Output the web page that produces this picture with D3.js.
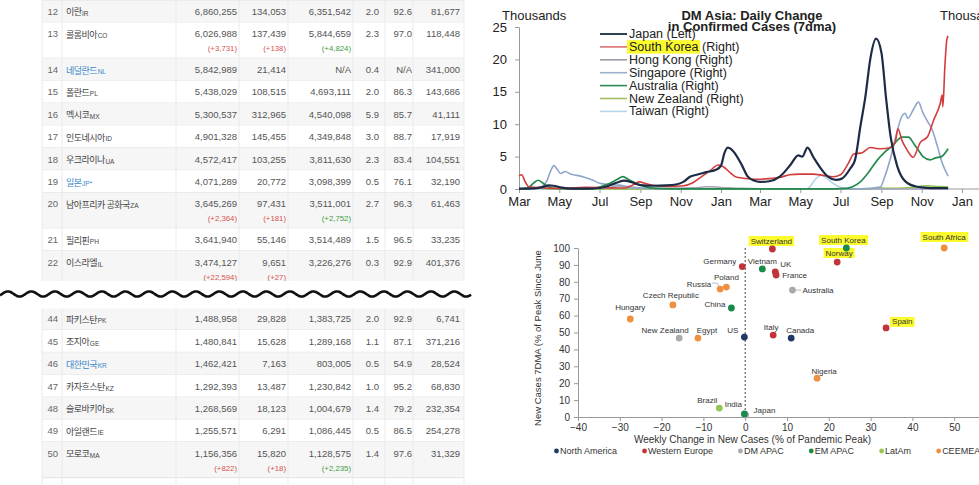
<!DOCTYPE html>
<html><head><meta charset="utf-8">
<script src="https://cdn.jsdelivr.net/npm/d3@7"></script>
<style>
html,body{margin:0;padding:0;background:#fff;}
svg{display:block;}
</style></head>
<body>
<svg id="c" width="979" height="485"></svg>
<script>
// ================= TABLE DATA =================
const tblRanks = [12,13,14,15,16,17,18,19,20,21,22,44,45,46,47,48,49,50];
const tblNames = ["이란","콜롬비아","네덜란드","폴란드","멕시코","인도네시아","우크라이나","일본","남아프리카 공화국","필리핀","이스라엘","파키스탄","조지아","대한민국","카자흐스탄","슬로바키아","아일랜드","모로코"];
const tblCodes = ["IR","CO","NL","PL","MX","ID","UA","JP*","ZA","PH","IL","PK","GE","KR","KZ","SK","IE","MA"];
const tblLinked = [14,19,46];
const tblConfirmed = [6860255,6026988,5842989,5438029,5300537,4901328,4572417,4071289,3645269,3641940,3474127,1488958,1480841,1462421,1292393,1268569,1255571,1156356];
const tblDeaths = [134053,137439,21414,108515,312965,145455,103255,20772,97431,55146,9651,29828,15628,7163,13487,18123,6291,15820];
const tblRecovered = [6351542,5844659,null,4693111,4540098,4349848,3811630,3098399,3511001,3514489,3226276,1383725,1289168,803005,1230842,1004679,1086445,1128575];
const tblFatality = [2.0,2.3,0.4,2.0,5.9,3.0,2.3,0.5,2.7,1.5,0.3,2.0,1.1,0.5,1.0,1.4,0.5,1.4];
const tblRecoveryPct = [92.6,97.0,null,86.3,85.7,88.7,83.4,76.1,96.3,96.5,92.9,92.9,87.1,54.9,95.2,79.2,86.5,97.6];
const tblPerMillion = [81677,118448,341000,143686,41111,17919,104551,32190,61463,33235,401376,6741,371216,28524,68830,232354,254278,31329];
const tblNewConfirmed = [null,3731,null,null,null,null,null,null,2364,null,22594,null,null,null,null,null,null,822];
const tblNewDeaths =    [null,138,null,null,null,null,null,null,181,null,27,null,null,null,null,null,null,18];
const tblNewRecovered = [null,4824,null,null,null,null,null,null,2752,null,null,null,null,null,null,null,null,2235];
const tblTailName = "오스트레일리아";

// ================= LINE CHART DATA (thousands) =================
const japanCases = [["2020-03-01",0.05],["2020-03-25",0.1],["2020-04-05",0.3],["2020-04-15",0.55],["2020-04-22",0.5],["2020-05-05",0.2],["2020-05-20",0.05],["2020-06-15",0.05],["2020-07-01",0.15],["2020-07-15",0.5],["2020-07-28",1.0],["2020-08-07",1.3],["2020-08-20",1.0],["2020-09-01",0.6],["2020-09-20",0.5],["2020-10-10",0.55],["2020-10-25",0.7],["2020-11-05",1.1],["2020-11-15",1.9],["2020-11-25",2.2],["2020-12-10",2.6],["2020-12-25",3.0],["2021-01-01",3.6],["2021-01-06",5.5],["2021-01-11",6.4],["2021-01-16",6.2],["2021-01-22",5.5],["2021-02-01",3.8],["2021-02-10",2.0],["2021-02-20",1.3],["2021-03-01",1.1],["2021-03-15",1.2],["2021-03-31",1.9],["2021-04-16",3.7],["2021-04-28",5.2],["2021-05-04",5.0],["2021-05-12",6.4],["2021-05-21",4.9],["2021-06-01",3.2],["2021-06-12",1.9],["2021-06-24",1.4],["2021-07-03",1.6],["2021-07-16",3.2],["2021-07-23",4.5],["2021-07-31",9.6],["2021-08-08",14.5],["2021-08-15",20.0],["2021-08-24",23.2],["2021-09-01",21.0],["2021-09-08",14.0],["2021-09-15",8.0],["2021-09-25",3.5],["2021-10-08",1.1],["2021-10-25",0.35],["2021-11-15",0.15],["2021-12-11",0.12]];
const koreaCases = [["2020-03-01",2.0],["2020-03-05",2.2],["2020-03-10",1.2],["2020-03-16",0.35],["2020-04-05",0.2],["2020-04-20",0.1],["2020-05-15",0.15],["2020-06-10",0.25],["2020-07-10",0.2],["2020-08-08",0.15],["2020-08-20",0.6],["2020-08-30",1.1],["2020-09-10",0.8],["2020-09-25",0.5],["2020-10-15",0.4],["2020-11-05",0.5],["2020-11-20",1.0],["2020-12-01",1.8],["2020-12-15",2.8],["2020-12-28",3.7],["2021-01-05",3.4],["2021-01-15",2.5],["2021-01-25",1.8],["2021-02-10",1.6],["2021-02-25",1.5],["2021-03-15",1.6],["2021-04-01",1.8],["2021-04-15",2.2],["2021-05-01",2.3],["2021-05-20",2.3],["2021-06-05",2.1],["2021-06-20",1.9],["2021-07-01",2.2],["2021-07-13",4.0],["2021-07-21",5.4],["2021-08-03",5.6],["2021-08-15",6.4],["2021-08-30",6.2],["2021-09-15",6.4],["2021-09-22",7.3],["2021-09-26",9.3],["2021-10-02",7.5],["2021-10-10",6.0],["2021-10-19",4.9],["2021-10-30",7.2],["2021-11-10",8.1],["2021-11-19",10.6],["2021-11-29",13.2],["2021-12-02",14.5],["2021-12-03",12.7],["2021-12-06",18.8],["2021-12-09",23.0],["2021-12-11",23.6]];
const hongKongCases = [["2020-03-01",0.02],["2020-03-25",0.15],["2020-04-05",0.2],["2020-04-20",0.03],["2020-07-10",0.1],["2020-07-28",0.45],["2020-08-10",0.3],["2020-08-25",0.1],["2020-11-25",0.2],["2020-12-10",0.35],["2021-01-01",0.25],["2021-02-01",0.1],["2021-03-01",0.05],["2021-12-11",0.01]];
const singaporeCases = [["2020-03-01",0.02],["2020-03-25",0.1],["2020-04-05",0.4],["2020-04-12",1.2],["2020-04-18",2.8],["2020-04-23",3.6],["2020-04-28",3.0],["2020-05-03",2.4],["2020-05-10",2.7],["2020-05-18",2.3],["2020-05-28",2.1],["2020-06-08",1.8],["2020-06-20",1.4],["2020-07-01",0.9],["2020-07-15",0.7],["2020-07-30",0.6],["2020-08-15",0.35],["2020-09-05",0.1],["2020-10-01",0.03],["2021-08-01",0.05],["2021-08-30",0.3],["2021-09-06",1.9],["2021-09-14",4.5],["2021-09-24",8.6],["2021-10-01",11.0],["2021-10-07",11.7],["2021-10-11",10.9],["2021-10-19",12.2],["2021-10-27",13.4],["2021-11-03",11.7],["2021-11-10",10.4],["2021-11-17",9.1],["2021-11-25",6.5],["2021-12-02",4.0],["2021-12-11",2.0]];
const australiaCases = [["2020-03-01",0.0],["2020-03-15",0.2],["2020-03-24",1.0],["2020-03-30",1.35],["2020-04-05",1.0],["2020-04-15",0.3],["2020-05-01",0.05],["2020-06-15",0.05],["2020-07-01",0.3],["2020-07-15",0.8],["2020-07-28",1.5],["2020-08-05",1.9],["2020-08-15",1.4],["2020-08-28",0.8],["2020-09-10",0.3],["2020-09-25",0.1],["2020-10-15",0.03],["2021-06-20",0.03],["2021-07-10",0.1],["2021-07-20",0.4],["2021-07-31",1.1],["2021-08-12",2.5],["2021-08-26",4.5],["2021-09-06",5.7],["2021-09-18",6.7],["2021-10-02",8.0],["2021-10-12",8.0],["2021-10-20",7.0],["2021-10-27",6.0],["2021-11-03",5.0],["2021-11-14",4.5],["2021-11-22",4.8],["2021-12-01",5.0],["2021-12-11",6.2]];
const newZealandCases = [["2020-03-01",0.0],["2020-03-28",0.15],["2020-04-10",0.05],["2020-05-01",0.0],["2021-08-15",0.0],["2021-08-25",0.2],["2021-09-10",0.1],["2021-10-15",0.25],["2021-11-10",0.5],["2021-11-25",0.4],["2021-12-11",0.3]];
const taiwanCases = [["2020-03-01",0.0],["2021-05-10",0.0],["2021-05-16",0.4],["2021-05-23",1.4],["2021-06-01",2.1],["2021-06-08",1.8],["2021-06-18",1.0],["2021-06-28",0.4],["2021-07-10",0.1],["2021-08-01",0.0],["2021-12-11",0.0]];
const lineSeriesNames = ["Japan","South Korea","Hong Kong","Singapore","Australia","New Zealand","Taiwan"];
const lineSeriesAxis = ["Left","Right","Right","Right","Right","Right","Right"];
const lineYTicks = [0,5,10,15,20,25];

// ================= SCATTER DATA =================
const scNames = ["Switzerland","South Korea","Norway","South Africa","Germany","Vietnam","UK","France","Poland","Russia","Australia","Czech Republic","China","Hungary","Spain","New Zealand","Egypt","US","Italy","Canada","Nigeria","Brazil","Japan","India"];
const scWeeklyChange = [6.5,24.2,22,47.6,-0.7,4.1,7.2,7.4,-4.5,-6.0,11.3,-17.3,-3.3,-27.5,33.7,-15.8,-11.3,-0.2,6.7,11.0,17.2,-6.2,0.1,-0.2];
const scPctOfPeak = [99.4,100,91.7,100,89,87.6,85.8,84,76.9,75.7,75.1,66.3,64.5,58,52.7,46.7,46.7,47.3,48.5,46.7,23,5.3,1.2,1.8];
const scRegion = ["Western Europe","EM APAC","Western Europe","CEEMEA","Western Europe","EM APAC","Western Europe","Western Europe","CEEMEA","CEEMEA","DM APAC","CEEMEA","EM APAC","CEEMEA","Western Europe","DM APAC","CEEMEA","North America","Western Europe","North America","CEEMEA","LatAm","DM APAC","EM APAC"];
const scHighlighted = ["Switzerland","South Korea","Norway","South Africa","Spain"];
const scRegions = ["North America","Western Europe","DM APAC","EM APAC","LatAm","CEEMEA"];
const scXTicks = [-40,-30,-20,-10,0,10,20,30,40,50,60];
const scYTicks = [0,10,20,30,40,50,60,70,80,90,100];

// ================= STYLES / LAYOUT =================
const svg = d3.select("#c");
const NUMF = "'Liberation Sans', Arial, sans-serif";
const KRF = "'Noto Sans CJK KR', 'Noto Sans', sans-serif";
const fmt = d3.format(",");
const fmt1 = d3.format(".1f");

// ---------- TABLE ----------
const colRight = [237, 286, 351, 379, 412, 460];
const colLines = [42, 62, 176, 239, 288, 353, 385, 413, 464];
const singleH = 22.4, doubleH = 35.8;

function drawSegment(idxs, top, clipTop, clipBottom, id, tail) {
  svg.append("clipPath").attr("id", id).append("rect")
    .attr("x", 0).attr("y", clipTop).attr("width", 470).attr("height", clipBottom - clipTop);
  const g = svg.append("g").attr("clip-path", `url(#${id})`);
  let y = top;
  const rows = idxs.map(i => {
    const dbl = tblNewConfirmed[i] != null || tblNewDeaths[i] != null || tblNewRecovered[i] != null;
    const r = {i, y, h: dbl ? doubleH : singleH};
    y += r.h; return r;
  });
  const bottom = y + (tail ? singleH : 0);
  const rg = g.selectAll("g.row").data(rows).join("g").attr("class", "row");
  rg.append("rect").attr("x", 42).attr("width", 422).attr("y", d => d.y).attr("height", d => d.h)
    .attr("fill", d => tblRanks[d.i] % 2 === 0 ? "#f6f6f6" : "#ffffff");
  rg.append("line").attr("x1", 42).attr("x2", 464).attr("y1", d => d.y + d.h).attr("y2", d => d.y + d.h)
    .attr("stroke", "#e2e2e2");
  rg.append("text").attr("x", 58).attr("y", d => d.y + 11.3).attr("text-anchor", "end")
    .attr("dominant-baseline", "central").attr("font-family", NUMF).attr("font-size", 9.5).attr("fill", "#666")
    .text(d => tblRanks[d.i]);
  const nm = rg.append("text").attr("x", 66).attr("y", d => d.y + 11.3).attr("dominant-baseline", "central")
    .attr("fill", d => tblLinked.includes(tblRanks[d.i]) ? "#3c86c8" : "#444");
  nm.append("tspan").attr("font-family", KRF).attr("font-size", 9).attr("letter-spacing", -0.5).text(d => tblNames[d.i]);
  nm.append("tspan").attr("font-family", NUMF).attr("font-size", 6.5).attr("dy", 1.5).attr("dx", 0.5).text(d => tblCodes[d.i]);
  const mainVals = d => [fmt(tblConfirmed[d.i]), fmt(tblDeaths[d.i]),
    tblRecovered[d.i] == null ? "N/A" : fmt(tblRecovered[d.i]), fmt1(tblFatality[d.i]),
    tblRecoveryPct[d.i] == null ? "N/A" : fmt1(tblRecoveryPct[d.i]), fmt(tblPerMillion[d.i])];
  rg.each(function(d) {
    const s = d3.select(this);
    mainVals(d).forEach((v, k) => {
      s.append("text").attr("x", colRight[k]).attr("y", d.y + 11.3).attr("text-anchor", "end")
        .attr("dominant-baseline", "central").attr("font-family", NUMF).attr("font-size", 9.5).attr("fill", "#555").text(v);
    });
    const deltas = [[tblNewConfirmed[d.i], "#d9534f"], [tblNewDeaths[d.i], "#d9534f"], [tblNewRecovered[d.i], "#3f9d3f"]];
    deltas.forEach(([v, c], k) => {
      if (v == null) return;
      s.append("text").attr("x", colRight[k]).attr("y", d.y + 26.2).attr("text-anchor", "end")
        .attr("dominant-baseline", "central").attr("font-family", NUMF).attr("font-size", 7.8).attr("fill", c)
        .text("(+" + fmt(v) + ")");
    });
  });
  if (tail) {
    g.append("text").attr("x", 66).attr("y", y + 11.3).attr("dominant-baseline", "central")
      .attr("font-family", KRF).attr("font-size", 9).attr("letter-spacing", -0.5).attr("fill", "#444").text(tailName);
  }
  g.append("line").attr("x1", 42).attr("x2", 464).attr("y1", top).attr("y2", top).attr("stroke", "#e2e2e2");
  g.selectAll("line.col").data(colLines).join("line").attr("class", "col")
    .attr("x1", d => d).attr("x2", d => d).attr("y1", top).attr("y2", bottom)
    .attr("stroke", "#eaeaea");
}
const tailName = tblTailName;
drawSegment(d3.range(0, 11), 0, 0, 281, "clipTop", false);
drawSegment(d3.range(11, 18), 307.5, 308.5, 485, "clipBot", true);

// wavy divider
const wavePts = d3.range(0, 472, 1).map(x => [x, 294 - 2.6 * Math.sin(2 * Math.PI * (x - 2) / 23.5)]);
svg.append("path").attr("d", d3.line().curve(d3.curveBasis)(wavePts))
  .attr("fill", "none").attr("stroke", "#111").attr("stroke-width", 2.6);

// ---------- LINE CHART ----------
const parse = d3.timeParse("%Y-%m-%d");
const lcX = d3.scaleTime().domain([new Date(2020, 2, 1), new Date(2022, 0, 1)]).range([519, 962]);
const lcY = d3.scaleLinear().domain([0, 25]).range([189, 27]);
const lcYR = d3.scaleLinear().domain([0, 25]).range([189, 27]);
const lineData = [japanCases, koreaCases, hongKongCases, singaporeCases, australiaCases, newZealandCases, taiwanCases];
const lineColors = ["#1d2b45", "#d43c3c", "#a8a2b4", "#8ea6c9", "#258a4e", "#8cc34a", "#b1d3e8"];
const legendColors = ["#2f4050", "#d97070", "#a09aa8", "#9ab0cc", "#2e8b57", "#a2bf60", "#b6d5e8"];
const lineWidths = [2.2, 1.6, 1.5, 1.6, 1.7, 1.5, 1.5];

const lc = svg.append("g");
lc.append("text").attr("x", 502).attr("y", 15).attr("dominant-baseline", "central")
  .attr("font-family", NUMF).attr("font-size", 13).attr("fill", "#222").text("Thousands");
lc.append("text").attr("x", 940).attr("y", 15).attr("dominant-baseline", "central")
  .attr("font-family", NUMF).attr("font-size", 13).attr("fill", "#222").text("Thousands");
lc.append("text").attr("x", 752).attr("y", 15).attr("text-anchor", "middle").attr("dominant-baseline", "central")
  .attr("font-family", NUMF).attr("font-size", 13).attr("font-weight", "bold").attr("fill", "#222").text("DM Asia: Daily Change");
lc.append("text").attr("x", 752).attr("y", 26.5).attr("text-anchor", "middle").attr("dominant-baseline", "central")
  .attr("font-family", NUMF).attr("font-size", 13).attr("font-weight", "bold").attr("fill", "#222").text("in Confirmed Cases (7dma)");

const yAx = lc.append("g").attr("transform", "translate(519,0)")
  .call(d3.axisLeft(lcY).tickValues(lineYTicks).tickSize(4).tickSizeOuter(0).tickPadding(8));
yAx.selectAll("path,line").attr("stroke", "#999");
yAx.selectAll("text").attr("font-family", NUMF).attr("font-size", 13).attr("fill", "#222");
const xAx = lc.append("g").attr("transform", "translate(0,189)")
  .call(d3.axisBottom(lcX).ticks(d3.timeMonth.every(2)).tickFormat(d3.timeFormat("%b")).tickSize(4).tickPadding(4));
xAx.select("path").remove();
xAx.selectAll("line").attr("stroke", "#999");
xAx.selectAll("text").attr("font-family", NUMF).attr("font-size", 13).attr("fill", "#222");
lc.append("line").attr("x1", 519).attr("x2", 979).attr("y1", 189).attr("y2", 189).attr("stroke", "#999");

const lineGen = yScale => d3.line().x(d => lcX(parse(d[0]))).y(d => yScale(d[1])).curve(d3.curveMonotoneX);
const order = [6, 5, 2, 3, 4, 1, 0];
order.forEach(k => {
  lc.append("path").datum(lineData[k])
    .attr("d", lineGen(lineSeriesAxis[k] === "Left" ? lcY : lcYR))
    .attr("fill", "none").attr("stroke", lineColors[k]).attr("stroke-width", lineWidths[k])
    .attr("stroke-linejoin", "round");
});

// legend
const lg = lc.append("g");
lineSeriesNames.forEach((n, k) => {
  const y = 34 + k * 12.9;
  lg.append("line").attr("x1", 600).attr("x2", 627).attr("y1", y).attr("y2", y)
    .attr("stroke", legendColors[k]).attr("stroke-width", k === 0 ? 2 : 1.6);
  const t = lg.append("text").attr("x", 629).attr("y", y).attr("dominant-baseline", "central")
    .attr("font-family", NUMF).attr("font-size", 12.5).attr("fill", "#222");
  const nameSpan = t.append("tspan").text(n);
  t.append("tspan").text(" (" + lineSeriesAxis[k] + ")");
  if (n === "South Korea") {
    const w = nameSpan.node().getComputedTextLength();
    lg.insert("rect", "text").attr("x", 627).attr("y", y - 6.8).attr("width", w + 3.5).attr("height", 13.5)
      .attr("fill", "#fbfb2e");
  }
});

// ---------- SCATTER ----------
const scX = d3.scaleLinear().domain([-40, 60]).range([578, 996]);
const scY = d3.scaleLinear().domain([0, 100]).range([417, 248]);
const regionColor = d3.scaleOrdinal().domain(scRegions)
  .range(["#1f3864", "#c0343a", "#a9a9a9", "#1a8a4a", "#93c553", "#ef9040"]);
const sc = svg.append("g");

const sxAx = sc.append("g").attr("transform", "translate(0,417)")
  .call(d3.axisBottom(scX).tickValues(scXTicks).tickSize(4).tickSizeOuter(0).tickPadding(3));
sxAx.selectAll("path,line").attr("stroke", "#999");
sxAx.selectAll("text").attr("font-family", NUMF).attr("font-size", 10).attr("fill", "#333");
const syAx = sc.append("g").attr("transform", "translate(578,0)")
  .call(d3.axisLeft(scY).tickValues(scYTicks).tickSize(4).tickSizeOuter(0).tickPadding(4));
syAx.selectAll("path,line").attr("stroke", "#999");
syAx.selectAll("text").attr("font-family", NUMF).attr("font-size", 10).attr("fill", "#333");

sc.append("line").attr("x1", scX(0)).attr("x2", scX(0)).attr("y1", scY(100)).attr("y2", scY(0))
  .attr("stroke", "#444").attr("stroke-width", 1).attr("stroke-dasharray", "2,2");

sc.append("text").attr("x", 752.5).attr("y", 439).attr("text-anchor", "middle").attr("dominant-baseline", "central")
  .attr("font-family", NUMF).attr("font-size", 10).attr("fill", "#333")
  .text("Weekly Change in New Cases (% of Pandemic Peak)");
sc.append("text").attr("transform", "translate(537,338) rotate(-90)").attr("text-anchor", "middle")
  .attr("dominant-baseline", "central").attr("font-family", NUMF).attr("font-size", 9.5).attr("fill", "#333")
  .text("New Cases 7DMA (% of Peak Since June");

const labelLayout = {
  "Switzerland": [-1, -8, "middle"], "South Korea": [-3, -8, "middle"], "Norway": [2, -9, "middle"],
  "South Africa": [0, -11, "middle"], "Germany": [-6, -5, "end"], "Vietnam": [0, -7, "middle"],
  "UK": [5, -7, "start"], "France": [6, 0, "start"], "Poland": [0, -10, "middle"], "Russia": [-9, -5, "end"],
  "Australia": [10, 0, "start"], "Czech Republic": [-2, -9, "middle"], "China": [-6, -3, "end"],
  "Hungary": [0, -11, "middle"], "Spain": [6, -6, "start"], "New Zealand": [-14, -8, "middle"],
  "Egypt": [9, -8, "middle"], "US": [-6, -7, "end"], "Italy": [-2, -8, "middle"], "Canada": [9, -8, "middle"],
  "Nigeria": [7, -7, "middle"], "Brazil": [-12, -8, "middle"], "India": [-11, -9, "middle"], "Japan": [8, -4, "start"]
};
const pts = scNames.map((n, i) => ({n, x: scX(scWeeklyChange[i]), y: scY(scPctOfPeak[i]), r: scRegion[i]}));

// leader lines
const rus = pts.find(p => p.n === "Russia");
sc.append("path").attr("d", `M${rus.x - 8},${rus.y - 6}L${rus.x - 3},${rus.y - 6}L${rus.x - 1},${rus.y - 3}`)
  .attr("fill", "none").attr("stroke", "#aaa").attr("stroke-width", 0.8);
const aus = pts.find(p => p.n === "Australia");
sc.append("line").attr("x1", aus.x + 3).attr("x2", aus.x + 9).attr("y1", aus.y).attr("y2", aus.y)
  .attr("stroke", "#aaa").attr("stroke-width", 0.8);

const labG = sc.append("g");
pts.forEach(p => {
  const [dx, dy, anc] = labelLayout[p.n];
  const t = labG.append("text").attr("x", p.x + dx).attr("y", p.y + dy).attr("text-anchor", anc)
    .attr("dominant-baseline", "central").attr("font-family", NUMF).attr("font-size", 8).attr("fill", "#333").text(p.n);
  if (scHighlighted.includes(p.n)) {
    const b = t.node().getBBox();
    labG.insert("rect", "text").attr("x", b.x - 2).attr("y", b.y - 0.5).attr("width", b.width + 4).attr("height", b.height + 1)
      .attr("fill", "#fbfb2e");
  }
});
sc.append("g").selectAll("circle").data(pts).join("circle")
  .attr("cx", d => d.x).attr("cy", d => d.y).attr("r", 3.4).attr("fill", d => regionColor(d.r));

// scatter legend
let lx = 554;
scRegions.forEach(r => {
  sc.append("circle").attr("cx", lx + 2.5).attr("cy", 451).attr("r", 2.4).attr("fill", regionColor(r));
  const t = sc.append("text").attr("x", lx + 6).attr("y", 451).attr("dominant-baseline", "central")
    .attr("font-family", NUMF).attr("font-size", 9).attr("fill", "#333").text(r);
  lx += 6 + t.node().getComputedTextLength() + 25;
});
</script>
</body></html>
